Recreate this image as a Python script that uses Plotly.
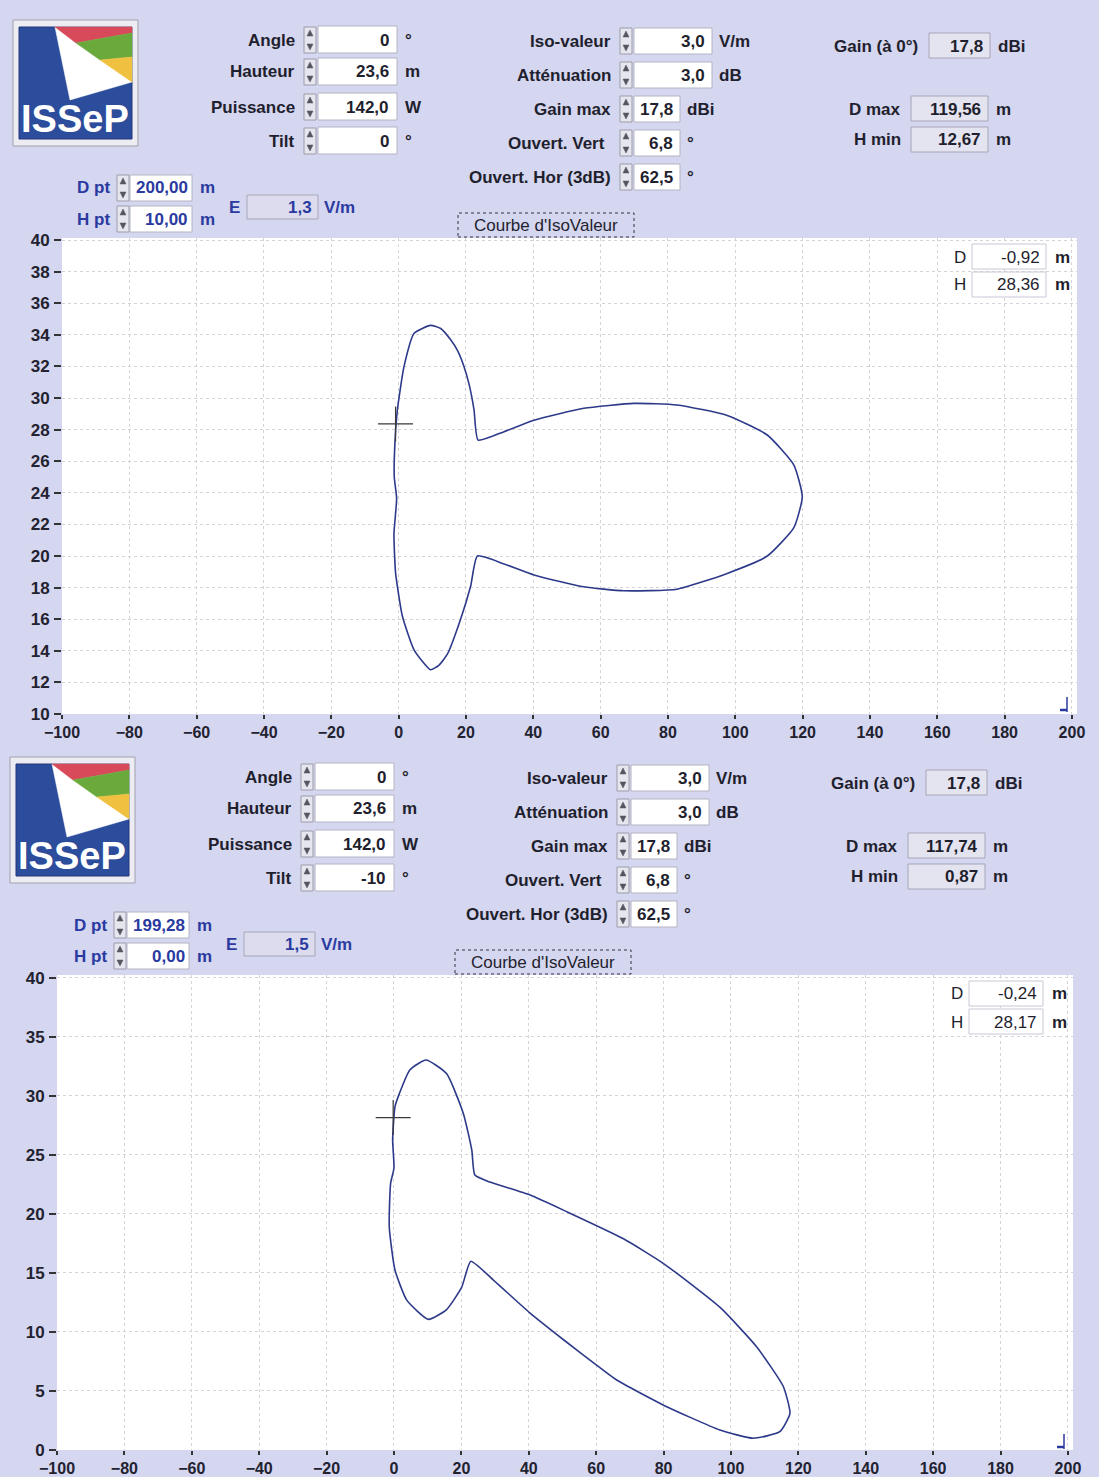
import plotly.graph_objects as go

W, H = 1099, 1477

# ---- data (distance D in m, height H in m)
top_curve_d = [9.5, 4.6, 1.6, -0.4, -1.2, -1.3, -0.6, -1.4, -1.2, -0.9, 1.1, 4.6, 9.5,
               12.0, 14.5, 18.4, 21.4, 23.4, 31.3, 40.2, 55.0, 66.9, 82.7, 97.6, 109.5,
               117.4, 119.9, 117.4, 109.5, 97.6, 82.7, 69.9, 55.0, 40.2, 31.3, 23.6,
               22.4, 21.0, 19.4, 17.5, 15.4, 12.5, 9.5]
top_curve_h = [34.6, 34.1, 32.0, 29.2, 26.7, 25.0, 23.65, 21.4, 20.0, 18.9, 16.2, 14.05, 12.8,
               13.1, 13.8, 16.0, 18.1, 20.0, 19.5, 18.8, 18.05, 17.8, 17.9, 18.9, 20.0,
               21.8, 23.75, 25.76, 27.66, 28.9, 29.56, 29.66, 29.35, 28.6, 27.87, 27.34,
               29.24, 30.8, 32.0, 33.0, 33.7, 34.4, 34.6]

bot_curve_d = [9.5, 4.7, 1.6, 0.3, -0.4, 0.0, -1.0, -1.4, 0.3, 3.8, 10.2, 15.6, 20.1, 22.8,
               29.5, 40.4, 50.5, 60.1, 66.1, 80.0, 96.7, 106.6, 114.5, 117.5, 115.5, 107.6,
               96.7, 80.0, 68.1, 51.2, 40.4, 28.5, 24.0, 23.1, 20.6, 15.6, 9.5]
bot_curve_h = [33.05, 32.2, 30.2, 29.1, 26.3, 23.9, 22.6, 18.9, 15.25, 12.7, 11.07, 11.9, 13.8, 16.0,
               14.4, 11.6, 9.3, 7.2, 5.93, 3.8, 1.7, 1.0, 1.55, 3.1, 5.4, 8.75,
               12.1, 15.8, 17.9, 20.2, 21.6, 22.7, 23.3, 25.4, 28.5, 31.9, 33.05]

cursor_d = [-0.92, -0.24]
cursor_h = [28.36, 28.17]

x_ticks = list(range(-100, 201, 20))
top_y_ticks = list(range(10, 41, 2))
bot_y_ticks = list(range(0, 41, 5))

# ---- panel texts
param_labels = ["Angle", "Hauteur", "Puissance", "Tilt"]
param_units = ["°", "m", "W", "°"]
param_top = ["0", "23,6", "142,0", "0"]
param_bot = ["0", "23,6", "142,0", "-10"]

ant_labels = ["Iso-valeur", "Atténuation", "Gain max", "Ouvert. Vert", "Ouvert. Hor (3dB)"]
ant_units = ["V/m", "dB", "dBi", "°", "°"]
ant_top = ["3,0", "3,0", "17,8", "6,8", "62,5"]
ant_bot = ["3,0", "3,0", "17,8", "6,8", "62,5"]

gain0 = ["17,8", "17,8"]
d_max = ["119,56", "117,74"]
h_min = ["12,67", "0,87"]
d_pt = ["200,00", "199,28"]
h_pt = ["10,00", "0,00"]
e_field = ["1,3", "1,5"]
cur_d_txt = ["-0,92", "-0,24"]
cur_h_txt = ["28,36", "28,17"]

BG = "#d5d6ef"
DARK = "#1f1f2e"
BLUE = "#2a3aa0"
LINE = "#2d3a8a"
FONT = "Liberation Sans"


def fx(x):
    return x / W


def fy(y):
    return 1 - y / H


shapes = []
annotations = []


def text(x, y, s, anchor="right", color=DARK, size=17, bold=True):
    annotations.append(dict(
        x=fx(x), y=fy(y), xref="paper", yref="paper", text=s, showarrow=False,
        xanchor=anchor, yanchor="middle",
        font=dict(family=FONT, size=size, color=color, weight="bold" if bold else "normal"),
    ))


def rect(x0, y0, x1, y1, fill="white", line="#b4b4c4", width=1, dash="solid"):
    shapes.append(dict(
        type="rect", xref="paper", yref="paper", layer="above",
        x0=fx(x0), x1=fx(x1), y0=fy(y1), y1=fy(y0),
        fillcolor=fill, line=dict(color=line, width=width, dash=dash),
    ))


def poly(pts, fill, line_color=None):
    path = "M " + " L ".join(f"{fx(a):.5f},{fy(b):.5f}" for a, b in pts) + " Z"
    shapes.append(dict(
        type="path", xref="paper", yref="paper", layer="above", path=path,
        fillcolor=fill, line=dict(color=line_color or fill, width=0.5),
    ))


def seg(x0, y0, x1, y1, color, width=1.5):
    shapes.append(dict(
        type="line", xref="paper", yref="paper", layer="above",
        x0=fx(x0), x1=fx(x1), y0=fy(y0), y1=fy(y1), line=dict(color=color, width=width),
    ))


def spinner(x, yc):
    rect(x, yc - 13, x + 12, yc + 13, fill="#e6e6ee", line="#9c9cac")
    poly([(x + 3, yc - 4), (x + 9, yc - 4), (x + 6, yc - 10)], "#555560")
    poly([(x + 3, yc + 4), (x + 9, yc + 4), (x + 6, yc + 10)], "#555560")


def logo(x0, y0):
    rect(x0, y0, x0 + 125, y0 + 126, fill="#ececf2", line="#a0a0b0")
    ix, iy = x0 + 6, y0 + 7
    rect(ix, iy, ix + 113, iy + 112, fill="#2c4c9c", line="#22387a")

    def p(a, b):
        return (ix + a, iy + b)

    poly([p(36, 0), p(113, 0), p(113, 55), p(51, 73)], "white")
    poly([p(36, 0), p(113, 0), p(113, 6), p(57, 16)], "#d84a5a")
    poly([p(57, 16), p(113, 6), p(113, 30), p(81, 33)], "#6aaa3c")
    poly([p(81, 33), p(113, 30), p(113, 55)], "#f0c040")
    annotations.append(dict(
        x=fx(ix + 56), y=fy(iy + 92), xref="paper", yref="paper", text="ISSeP",
        showarrow=False, xanchor="center", yanchor="middle",
        font=dict(family=FONT, size=38, color="white", weight="bold"),
    ))


def panel(i, dx, dy, params):
    logo(13 + dx, 20 + dy)

    for k, (lab, unit, val) in enumerate(zip(param_labels, param_units, params)):
        yc = [40, 72, 107, 141][k] + dy
        text(297 + dx, yc, lab)
        spinner(304 + dx, yc)
        rect(318 + dx, yc - 14, 397 + dx, yc + 13)
        text(391 + dx, yc, val)
        text(403 + dx, yc, unit, anchor="left")

    ant_vals = ant_top if i == 0 else ant_bot
    for k, (lab, unit, val) in enumerate(zip(ant_labels, ant_units, ant_vals)):
        yc = [41, 75, 109, 143, 177][k] + dy
        wide = k < 2
        x1 = 712 if wide else 680
        text((607 if k == 3 else 613) + dx, yc, lab)
        spinner(620 + dx, yc)
        rect(634 + dx, yc - 13, x1 + dx, yc + 13)
        text(x1 - 5 + dx, yc, val)
        text(x1 + 5 + dx, yc, unit, anchor="left")

    # read-only results
    for lab, val, unit, lx, bx0, bx1, yc in [
        ("Gain (à 0°)", gain0[i], "dBi", 920, 929, 990, 46),
        ("D max", d_max[i], "m", 903, 911, 988, 109),
        ("H min", h_min[i], "m", 903, 911, 988, 140),
    ]:
        text(lx + dx, yc + dy, lab)
        rect(bx0 + dx, yc - 13 + dy, bx1 + dx, yc + 12 + dy, fill="#e4e3f0", line="#a6a6b8")
        text(bx1 - 5 + dx, yc + dy, val)
        text(bx1 + 6 + dx, yc + dy, unit, anchor="left")

    # point of interest
    for lab, val, yc in [("D pt", d_pt[i], 188), ("H pt", h_pt[i], 219)]:
        text(112 + dx, yc + dy, lab, color=BLUE)
        spinner(117 + dx, yc + dy)
        rect(130 + dx, yc - 13 + dy, 192 + dx, yc + 13 + dy)
        text(190 + dx, yc + dy, val, color=BLUE)
        text(198 + dx, yc + dy, "m", anchor="left", color=BLUE)
    text(234 + dx, 207 + dy, "E", anchor="center", color=BLUE)
    rect(247 + dx, 195 + dy, 318 + dx, 219 + dy, fill="#dcdcee", line="#a6a6b8")
    text(314 + dx, 207 + dy, e_field[i], color=BLUE)
    text(322 + dx, 207 + dy, "V/m", anchor="left", color=BLUE)

    # button
    rect(458 + dx, 213 + dy, 634 + dx, 237 + dy, fill="rgba(0,0,0,0)", line="#333340", dash="dot")
    text(546 + dx, 225 + dy, "Courbe d'IsoValeur", anchor="center", bold=False)

    # cursor readout inside the plot
    for lab, val, yc in [("D", cur_d_txt[i], 257), ("H", cur_h_txt[i], 285)]:
        text(960 + dx, yc + dy, lab, anchor="center", bold=False)
        rect(972 + dx, yc - 13 + dy, 1046 + dx, yc + 12 + dy, line="#c8c8d4")
        text(1042 + dx, yc + dy, val, bold=False)
        text(1053 + dx, yc + dy, "m", anchor="left")

    # end-of-range marker
    seg(1067 + dx, 697 + dy, 1067 + dx, 712 + dy, BLUE)
    seg(1060 + dx, 710 + dy, 1067 + dx, 710 + dy, BLUE, 2.5)


panel(0, 0, 0, param_top)
panel(1, -3, 737, param_bot)

fig = go.Figure()

for curve_d, curve_h, ax in [(top_curve_d, top_curve_h, ""), (bot_curve_d, bot_curve_h, "2")]:
    fig.add_trace(go.Scatter(
        x=curve_d, y=curve_h, mode="lines", xaxis="x" + ax, yaxis="y" + ax,
        line=dict(color=LINE, width=1.6, shape="spline", smoothing=0.5),
        hoverinfo="skip", showlegend=False,
    ))

for k, ax in enumerate(["", "2"]):
    fig.add_trace(go.Scatter(
        x=[cursor_d[k]], y=[cursor_h[k]], mode="markers", xaxis="x" + ax, yaxis="y" + ax,
        marker=dict(symbol="cross-thin", size=25, line=dict(color="#3a3a3a", width=1.2)),
        hoverinfo="skip", showlegend=False,
    ))

x_tick_font = dict(family=FONT, size=16, color="#222230", weight="bold")
y_tick_font = dict(family=FONT, size=17, color="#222230", weight="bold")
x_common = dict(
    range=[-100, 201.5], tickvals=x_ticks, showgrid=True, gridcolor="#d4d4d8", griddash="dot",
    zeroline=False, showline=False, ticks="outside", ticklen=4, tickwidth=2, tickcolor="#333",
    tickfont=x_tick_font, fixedrange=True, automargin=False,
)
y_common = dict(
    showgrid=True, gridcolor="#d4d4d8", griddash="dot", zeroline=False, showline=False,
    ticks="outside", ticklen=7, tickwidth=2, tickcolor="#333", tickfont=y_tick_font,
    ticklabelstandoff=1, fixedrange=True, automargin=False,
)

fig.update_layout(
    width=W, height=H, autosize=False,
    margin=dict(l=0, r=0, t=0, b=0, pad=0),
    paper_bgcolor=BG, plot_bgcolor="white",
    showlegend=False,
    xaxis=dict(domain=[fx(62), fx(1077)], anchor="y", **x_common),
    yaxis=dict(domain=[fy(714), fy(238)], range=[10, 40.13], tickvals=top_y_ticks,
               anchor="x", **y_common),
    xaxis2=dict(domain=[fx(57), fx(1073)], anchor="y2", **x_common),
    yaxis2=dict(domain=[fy(1450), fy(975)], range=[0, 40.25], tickvals=bot_y_ticks,
                anchor="x2", **y_common),
    shapes=shapes,
    annotations=annotations,
)

fig.write_html(
    "out.html",
    config={"displayModeBar": False},
    post_script="document.body.style.margin='0';document.body.style.background='%s';" % BG,
)
